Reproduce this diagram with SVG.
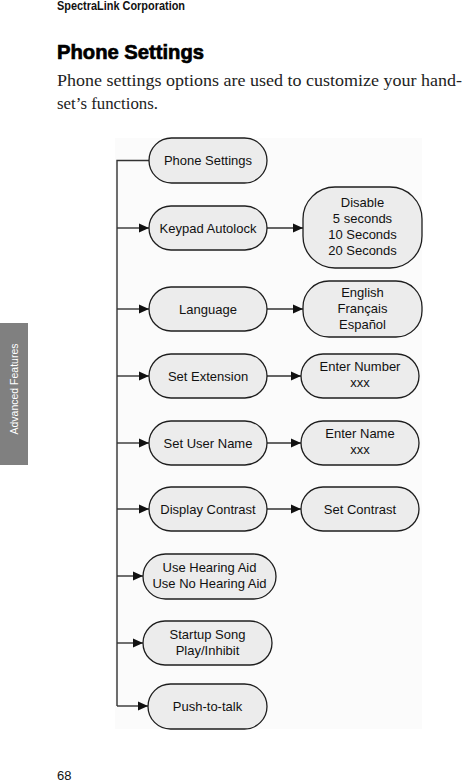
<svg xmlns="http://www.w3.org/2000/svg" width="467" height="784" viewBox="0 0 467 784">
<defs>
<style>
.pill{fill:#ececec;stroke:#1e1e1e;stroke-width:1.3}
.t{font-family:"Liberation Sans",Arial,sans-serif;font-size:13px;fill:#111;text-anchor:middle}
.c{fill:none;stroke:#333;stroke-width:1.4}
</style>
<marker id="ah" markerUnits="userSpaceOnUse" markerWidth="11" markerHeight="10" refX="10" refY="5" orient="auto">
<path d="M0,0.5 L10,5 L0,9.5 Z" fill="#111"/>
</marker>
</defs>
<rect width="467" height="784" fill="#fff"/>
<text x="57" y="10" font-family="'Liberation Sans',Arial,sans-serif" font-weight="bold" font-size="12" textLength="128" lengthAdjust="spacingAndGlyphs" fill="#111">SpectraLink Corporation</text>
<text x="57" y="59" font-family="'Liberation Sans',Arial,sans-serif" font-weight="bold" font-size="21" textLength="147" lengthAdjust="spacingAndGlyphs" fill="#000" stroke="#000" stroke-width="0.7">Phone Settings</text>
<text x="57" y="86" font-family="'Liberation Serif','Times New Roman',serif" font-size="17" textLength="405" lengthAdjust="spacingAndGlyphs" fill="#222">Phone settings options are used to customize your hand-</text>
<text x="57" y="109" font-family="'Liberation Serif','Times New Roman',serif" font-size="17" textLength="101" lengthAdjust="spacingAndGlyphs" fill="#222">set’s functions.</text>
<rect x="0" y="323" width="28" height="142" fill="#808080"/>
<text transform="translate(18,389) rotate(-90)" font-family="'Liberation Sans',Arial,sans-serif" font-size="10.5" fill="#fff" text-anchor="middle">Advanced Features</text>
<text x="57" y="780" font-family="'Liberation Sans',Arial,sans-serif" font-size="13" fill="#111">68</text>
<rect x="115" y="138" width="307" height="591" fill="#fbfbfb"/>
<g id="connectors">
<path class="c" d="M149,160.5 H117 V706"/>
<path class="c" d="M117,228 H149" marker-end="url(#ah)"/>
<path class="c" d="M267,228 H303" marker-end="url(#ah)"/>
<path class="c" d="M117,309 H149" marker-end="url(#ah)"/>
<path class="c" d="M267,309 H303" marker-end="url(#ah)"/>
<path class="c" d="M117,376 H149" marker-end="url(#ah)"/>
<path class="c" d="M267,376 H301" marker-end="url(#ah)"/>
<path class="c" d="M117,443 H149" marker-end="url(#ah)"/>
<path class="c" d="M267,443 H301" marker-end="url(#ah)"/>
<path class="c" d="M117,509 H149" marker-end="url(#ah)"/>
<path class="c" d="M267,509 H301" marker-end="url(#ah)"/>
<path class="c" d="M117,576 H143" marker-end="url(#ah)"/>
<path class="c" d="M117,643 H143" marker-end="url(#ah)"/>
<path class="c" d="M117,706 H148" marker-end="url(#ah)"/>
</g>
<g id="n-phone-settings"><rect class="pill" x="149" y="138" width="118" height="45" rx="22.5"/><text class="t" x="208" y="165.2">Phone Settings</text></g>
<g id="n-keypad-autolock"><rect class="pill" x="149" y="206" width="118" height="44" rx="22"/><text class="t" x="208" y="232.7">Keypad Autolock</text></g>
<g id="n-autolock-options"><rect class="pill" x="303" y="187" width="119" height="81" rx="32"/><text class="t" x="362.5" y="207">Disable</text><text class="t" x="362.5" y="223">5 seconds</text><text class="t" x="362.5" y="239">10 Seconds</text><text class="t" x="362.5" y="255">20 Seconds</text></g>
<g id="n-language"><rect class="pill" x="149" y="287" width="118" height="44" rx="22"/><text class="t" x="208" y="313.7">Language</text></g>
<g id="n-language-options"><rect class="pill" x="303" y="281" width="119" height="56" rx="26"/><text class="t" x="362.5" y="297">English</text><text class="t" x="362.5" y="313">Français</text><text class="t" x="362.5" y="329">Español</text></g>
<g id="n-set-extension"><rect class="pill" x="149" y="354" width="118" height="44" rx="22"/><text class="t" x="208" y="380.7">Set Extension</text></g>
<g id="n-enter-number"><rect class="pill" x="301" y="354" width="118" height="44" rx="22"/><text class="t" x="360" y="371">Enter Number</text><text class="t" x="360" y="387">xxx</text></g>
<g id="n-set-user-name"><rect class="pill" x="149" y="421" width="118" height="44" rx="22"/><text class="t" x="208" y="447.7">Set User Name</text></g>
<g id="n-enter-name"><rect class="pill" x="301" y="421" width="118" height="44" rx="22"/><text class="t" x="360" y="438">Enter Name</text><text class="t" x="360" y="454">xxx</text></g>
<g id="n-display-contrast"><rect class="pill" x="149" y="487" width="118" height="44" rx="22"/><text class="t" x="208" y="513.7">Display Contrast</text></g>
<g id="n-set-contrast"><rect class="pill" x="301" y="487" width="118" height="44" rx="22"/><text class="t" x="360" y="513.7">Set Contrast</text></g>
<g id="n-hearing-aid"><rect class="pill" x="143" y="554" width="133" height="45" rx="22.5"/><text class="t" x="209.5" y="572">Use Hearing Aid</text><text class="t" x="209.5" y="588">Use No Hearing Aid</text></g>
<g id="n-startup-song"><rect class="pill" x="143" y="621" width="129" height="44" rx="22"/><text class="t" x="207.5" y="638.5">Startup Song</text><text class="t" x="207.5" y="654.5">Play/Inhibit</text></g>
<g id="n-push-to-talk"><rect class="pill" x="148" y="684" width="119" height="45" rx="22.5"/><text class="t" x="207.5" y="710.7">Push-to-talk</text></g>
</svg>
